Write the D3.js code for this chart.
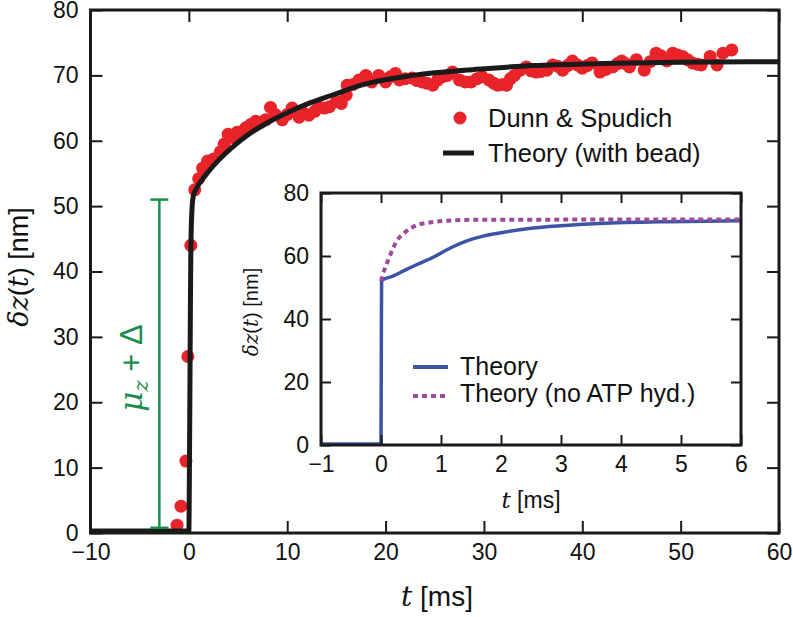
<!DOCTYPE html>
<html><head><meta charset="utf-8">
<script src="https://cdn.jsdelivr.net/npm/d3@7"></script>
<style>body{margin:0;background:#fff}svg{display:block}text{font-family:"Liberation Sans",Arial,sans-serif}</style>
</head><body>
<script>
// ---- data ----
const mainXTicks = [-10, 0, 10, 20, 30, 40, 50, 60];
const mainYTicks = [0, 10, 20, 30, 40, 50, 60, 70, 80];
const insetXTicks = [-1, 0, 1, 2, 3, 4, 5, 6];
const insetYTicks = [0, 20, 40, 60, 80];

const dunnT = [-1.2,-0.8,-0.3,-0.1,0.2,0.6,1.0,1.4,1.9,2.5,3.2,3.6,4.0,4.5,4.9,5.5,5.8,6.3,6.8,7.3,7.8,8.3,8.8,9.5,10.0,10.5,11.2,11.7,12.2,12.8,13.2,13.8,14.3,15,15.5,16,16.1,16.7,17.3,18,18.6,19.3,20,20.5,21,21.4,22,22.7,23.2,23.7,24.2,24.8,25.3,25.8,26.3,26.8,27.5,28.1,28.7,29.3,29.8,30.5,31,31.4,31.9,32.3,32.7,33.1,33.7,34.3,34.8,35.3,35.8,36.4,37,37.5,38,38.5,39,39.5,40,40.5,41,41.8,42.4,43.1,43.6,44,44.4,44.8,45.5,46.3,46.9,47.5,48,48.6,49.2,49.7,50.2,50.7,51.2,51.7,52.1,53,53.7,54.3,55.2];
const dunnZ = [1.2,4.1,11,27,44,52.5,54.2,55.8,56.9,57.2,58.3,59.5,61,60.5,61.3,61.5,62,62.5,63,62.8,63.2,65.1,64,63.2,64,65,63.6,64.2,63.9,64.5,65.2,65,65.2,66,65.7,67,68.5,68.6,69.3,70,69,70,69,69.8,70.3,69.3,69.5,69.6,69.2,69,68.8,68.5,69.3,69.8,70,70.5,69.3,69,69,69.5,69.8,69.3,68.8,68.5,68.6,68.5,69.5,70,70.8,71.3,70.7,70.5,70.6,70.8,71.6,71.4,70.8,71.5,72.2,71.6,71.1,71.5,71.9,70.5,70.9,71.3,71.8,72.2,71.8,71.3,72.4,70.8,72.1,73.4,73,72.2,73.4,73.1,72.9,72.4,71.9,71.7,71.6,72.9,71.6,73.4,73.9];

const beadT = [-10,0,0.05,0.1,0.15,0.2,0.3,0.45,0.7,1.0,2,3,4.4,6,7.8,10,12,14.6,18,21,25,30,35,42,50,60];
const beadZ = [0.3,0.3,8,20,33,43,49,51.5,52.5,53.3,55.3,57.0,59.0,60.9,62.6,64.3,65.6,67.0,68.7,69.6,70.4,71.0,71.5,71.8,72.0,72.1];

const theoryT = [-1,0,0.005,0.01,0.03,0.2,0.4,0.6,0.87,1.1,1.43,1.7,2,2.5,3,3.65,4.8,6];
const theoryZ = [0.3,0.3,30,52,52.4,53.6,55.5,57.3,59.6,62,64.8,66.3,67.4,68.8,69.6,70.3,70.9,71.2];

const noAtpT = [0,0.03,0.12,0.27,0.4,0.6,0.87,1.2,1.6,6];
const noAtpZ = [52,54,58.7,65,67.5,69.8,70.8,71.3,71.5,71.6];

const legendMain = ["Dunn & Spudich", "Theory (with bead)"];
const legendInset = ["Theory", "Theory (no ATP hyd.)"];

// ---- drawing ----
const W = 793, H = 617;
const svg = d3.select("body").append("svg").attr("width", W).attr("height", H);
const RED = "#e8242a", BLUE = "#3b55a4", PURPLE = "#9c4a9c", GREEN = "#1a8c4e", BLK = "#1a1a1a";

const x = d3.scaleLinear().domain([-10, 60]).range([90.5, 779]);
const y = d3.scaleLinear().domain([0, 80]).range([533, 10]);
const fmt = d => d < 0 ? "\u2212" + Math.abs(d) : String(d);

function frameAxes(g, xs, ys, xt, yt, fs, tl) {
  const [x0, x1] = xs.range(), [y0, y1] = ys.range();
  const b = g.append("g").attr("transform", `translate(0,${y0})`)
    .call(d3.axisBottom(xs).tickValues(xt).tickSize(-tl).tickPadding(11).tickFormat(fmt));
  const t = g.append("g").attr("transform", `translate(0,${y1})`)
    .call(d3.axisTop(xs).tickValues(xt).tickSize(-tl).tickFormat(""));
  const l = g.append("g").attr("transform", `translate(${x0},0)`)
    .call(d3.axisLeft(ys).tickValues(yt).tickSize(-tl).tickPadding(12).tickFormat(fmt));
  const r = g.append("g").attr("transform", `translate(${x1},0)`)
    .call(d3.axisRight(ys).tickValues(yt).tickSize(-tl).tickFormat(""));
  [b, t, l, r].forEach(a => {
    a.select(".domain").remove();
    a.selectAll(".tick line").attr("stroke", BLK).attr("stroke-width", 2);
    a.selectAll("text").attr("font-size", fs).attr("fill", "#111").attr("font-family", "Liberation Sans, Arial, sans-serif");
  });
  b.selectAll("text").attr("dy", "0.71em");
  g.append("rect").attr("x", x0).attr("y", y1).attr("width", x1 - x0).attr("height", y0 - y1)
    .attr("fill", "none").attr("stroke", BLK).attr("stroke-width", 3);
}

const gm = svg.append("g");
// data dots
gm.selectAll("circle.d").data(dunnT.map((t, i) => [t, dunnZ[i]])).join("circle")
  .attr("cx", d => x(d[0])).attr("cy", d => y(d[1])).attr("r", 6.5).attr("fill", RED);
// theory line
const lineM = d3.line().x(d => x(d[0])).y(d => y(d[1])).curve(d3.curveMonotoneX);
gm.append("path").datum(beadT.map((t, i) => [t, beadZ[i]])).attr("d", lineM)
  .attr("fill", "none").attr("stroke", BLK).attr("stroke-width", 5).attr("stroke-linejoin", "round");

// green annotation
const gx = x(-3.0);
const gy0 = y(0.8), gy1 = y(51);
gm.append("line").attr("x1", gx).attr("x2", gx).attr("y1", gy0).attr("y2", gy1).attr("stroke", GREEN).attr("stroke-width", 2.5);
[gy0, gy1].forEach(v => gm.append("line").attr("x1", gx - 9).attr("x2", gx + 9).attr("y1", v).attr("y2", v).attr("stroke", GREEN).attr("stroke-width", 2.5));
const gt = gm.append("text").attr("transform", `translate(${gx - 17},368) rotate(-90)`).attr("text-anchor", "middle")
  .attr("font-size", 31).attr("fill", GREEN);
gt.append("tspan").attr("font-family", "DejaVu Serif").attr("font-style", "italic").text("\u03bc");
gt.append("tspan").attr("font-family", "DejaVu Serif").attr("font-style", "italic").attr("font-size", 21).attr("dy", 6).text("z");
gt.append("tspan").attr("dy", -6).text(" + \u0394");

frameAxes(gm, x, y, mainXTicks, mainYTicks, 23, 12);

// main axis labels
const xl = svg.append("text").attr("x", 437).attr("y", 606).attr("text-anchor", "middle").attr("font-size", 28).attr("fill", "#111");
xl.append("tspan").attr("font-family", "DejaVu Serif").attr("font-style", "italic").text("t");
xl.append("tspan").text(" [ms]");
const yl = svg.append("text").attr("transform", "translate(28,267) rotate(-90)").attr("text-anchor", "middle").attr("font-size", 27).attr("fill", "#111");
yl.append("tspan").attr("font-family", "DejaVu Serif").attr("font-style", "italic").text("\u03b4z");
yl.append("tspan").text("(");
yl.append("tspan").attr("font-family", "DejaVu Serif").attr("font-style", "italic").text("t");
yl.append("tspan").text(") [nm]");

// main legend
svg.append("circle").attr("cx", 460).attr("cy", 118).attr("r", 6.5).attr("fill", RED);
svg.append("line").attr("x1", 443).attr("x2", 474).attr("y1", 153).attr("y2", 153).attr("stroke", BLK).attr("stroke-width", 5);
svg.selectAll("text.lgm").data(legendMain).join("text").attr("class", "lgm")
  .attr("x", 488).attr("y", (d, i) => 127 + i * 35).attr("font-size", 25.5).attr("fill", "#111").text(d => d);

// ---- inset ----
const xi = d3.scaleLinear().domain([-1, 6]).range([321, 741]);
const yi = d3.scaleLinear().domain([0, 80]).range([445, 193]);
const gi = svg.append("g");
gi.append("rect").attr("x", 321).attr("y", 193).attr("width", 420).attr("height", 252).attr("fill", "#fff");
gi.append("path").datum(theoryT.map((t, i) => [t, theoryZ[i]]))
  .attr("d", d3.line().x(d => xi(d[0])).y(d => yi(d[1])).curve(d3.curveMonotoneX))
  .attr("fill", "none").attr("stroke", BLUE).attr("stroke-width", 3.5);
gi.append("path").datum(noAtpT.map((t, i) => [t, noAtpZ[i]]))
  .attr("d", d3.line().x(d => xi(d[0])).y(d => yi(d[1])).curve(d3.curveMonotoneX))
  .attr("fill", "none").attr("stroke", PURPLE).attr("stroke-width", 4).attr("stroke-dasharray", "5,4");
frameAxes(gi, xi, yi, insetXTicks, insetYTicks, 23, 10);

const xil = svg.append("text").attr("x", 531).attr("y", 508).attr("text-anchor", "middle").attr("font-size", 23).attr("fill", "#111");
xil.append("tspan").attr("font-family", "DejaVu Serif").attr("font-style", "italic").text("t");
xil.append("tspan").text(" [ms]");
const yil = svg.append("text").attr("transform", "translate(258,312) rotate(-90)").attr("text-anchor", "middle").attr("font-size", 20).attr("fill", "#111");
yil.append("tspan").attr("font-family", "DejaVu Serif").attr("font-style", "italic").text("\u03b4z");
yil.append("tspan").text("(");
yil.append("tspan").attr("font-family", "DejaVu Serif").attr("font-style", "italic").text("t");
yil.append("tspan").text(") [nm]");

// inset legend
svg.append("line").attr("x1", 413).attr("x2", 448).attr("y1", 367).attr("y2", 367).attr("stroke", BLUE).attr("stroke-width", 4);
svg.append("line").attr("x1", 413).attr("x2", 448).attr("y1", 396).attr("y2", 396).attr("stroke", PURPLE).attr("stroke-width", 4).attr("stroke-dasharray", "5,4");
svg.selectAll("text.lgi").data(legendInset).join("text").attr("class", "lgi")
  .attr("x", 460).attr("y", (d, i) => 375 + i * 27).attr("font-size", 25).attr("fill", "#111").text(d => d);
</script>
</body></html>
